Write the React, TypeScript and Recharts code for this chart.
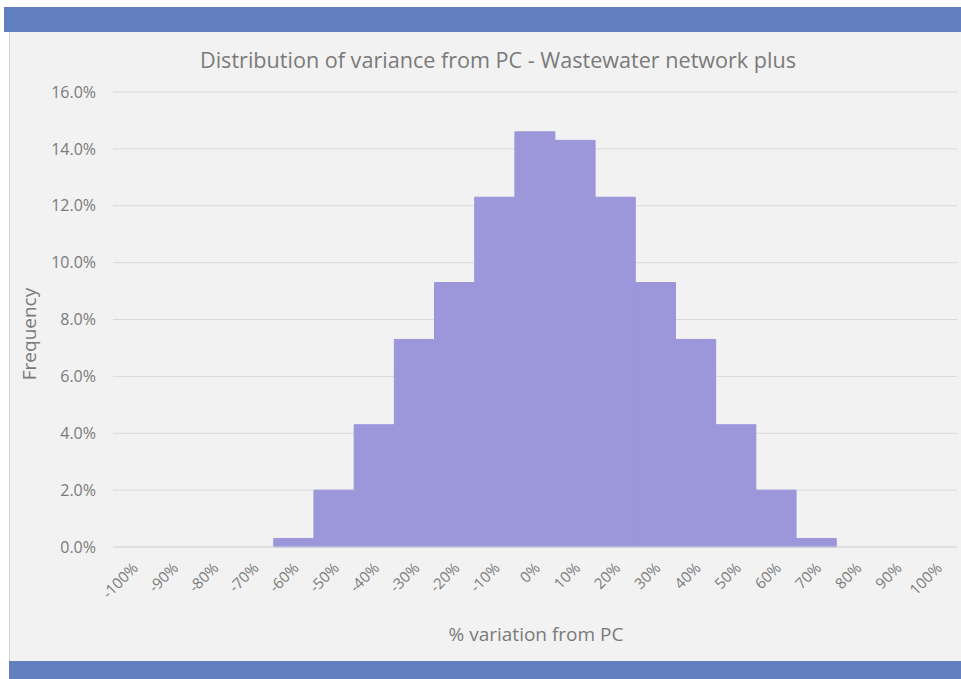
import React from 'react';
import { BarChart, Bar, XAxis, YAxis, CartesianGrid } from 'recharts';

const bins = [
  '-100%', '-90%', '-80%', '-70%', '-60%', '-50%', '-40%', '-30%', '-20%', '-10%', '0%',
  '10%', '20%', '30%', '40%', '50%', '60%', '70%', '80%', '90%', '100%',
];
const frequency = [0, 0, 0, 0, 0.3, 2.0, 4.3, 7.3, 9.3, 12.3, 14.6, 14.3, 12.3, 9.3, 7.3, 4.3, 2.0, 0.3, 0, 0, 0];
const yTicks = [0, 2, 4, 6, 8, 10, 12, 14, 16];

const data = bins.map((bin, i) => ({ bin, freq: frequency[i] }));

const FONT = '"Open Sans", "Noto Sans", sans-serif';
const TEXT = '#7a7a7a';

function XTick({ x, y, payload }: any) {
  return (
    <text
      transform={`translate(${x + 6},${y + 14}) rotate(-45)`}
      textAnchor="end"
      fontSize={15}
      fontFamily={FONT}
      fill={TEXT}
    >
      {payload.value}
    </text>
  );
}

export default function App() {
  return (
    <div style={{ position: 'absolute', left: 0, top: 0, width: 961, height: 679, background: '#fff', overflow: 'hidden' }}>
      <div style={{ position: 'absolute', left: 9, top: 32, width: 960, height: 629, background: '#f2f2f2', borderLeft: '1px solid #d0d0d0' }} />
      <div style={{ position: 'absolute', left: 4, top: 7, width: 957, height: 25, background: '#6280c0' }} />
      <div style={{ position: 'absolute', left: 9, top: 661, width: 952, height: 18, background: '#6280c0' }} />
      <div style={{ position: 'absolute', left: 0, top: 0 }}>
        <BarChart
          width={961}
          height={679}
          data={data}
          barCategoryGap={0}
          margin={{ top: 92, right: 4, bottom: 72, left: 0 }}
        >
          <CartesianGrid vertical={false} stroke="#d9d9d9" />
          <XAxis
            dataKey="bin"
            interval={0}
            height={60}
            tickLine={false}
            axisLine={{ stroke: '#d9d9d9' }}
            tick={<XTick />}
          />
          <YAxis
            domain={[0, 16]}
            ticks={yTicks}
            width={113}
            axisLine={false}
            tickLine={false}
            tickMargin={11}
            tickFormatter={(v: number) => v.toFixed(1) + '%'}
            tick={{ fontSize: 16, fill: TEXT, fontFamily: FONT }}
          />
          <Bar
            dataKey="freq"
            fill="#9c96da"
            stroke="#9c96da"
            strokeWidth={1}
            isAnimationActive={false}
          />
        </BarChart>
      </div>
      <svg width={961} height={679} style={{ position: 'absolute', left: 0, top: 0, pointerEvents: 'none' }}>
        <text x={498} y={68} textAnchor="middle" fontSize={22} fontFamily={FONT} fill={TEXT} textLength={596} lengthAdjust="spacingAndGlyphs">
          Distribution of variance from PC - Wastewater network plus
        </text>
        <text x={536} y={641} textAnchor="middle" fontSize={19} fontFamily={FONT} fill={TEXT}>
          % variation from PC
        </text>
        <text transform="translate(36,334) rotate(-90)" textAnchor="middle" fontSize={19} fontFamily={FONT} fill={TEXT}>
          Frequency
        </text>
      </svg>
    </div>
  );
}
